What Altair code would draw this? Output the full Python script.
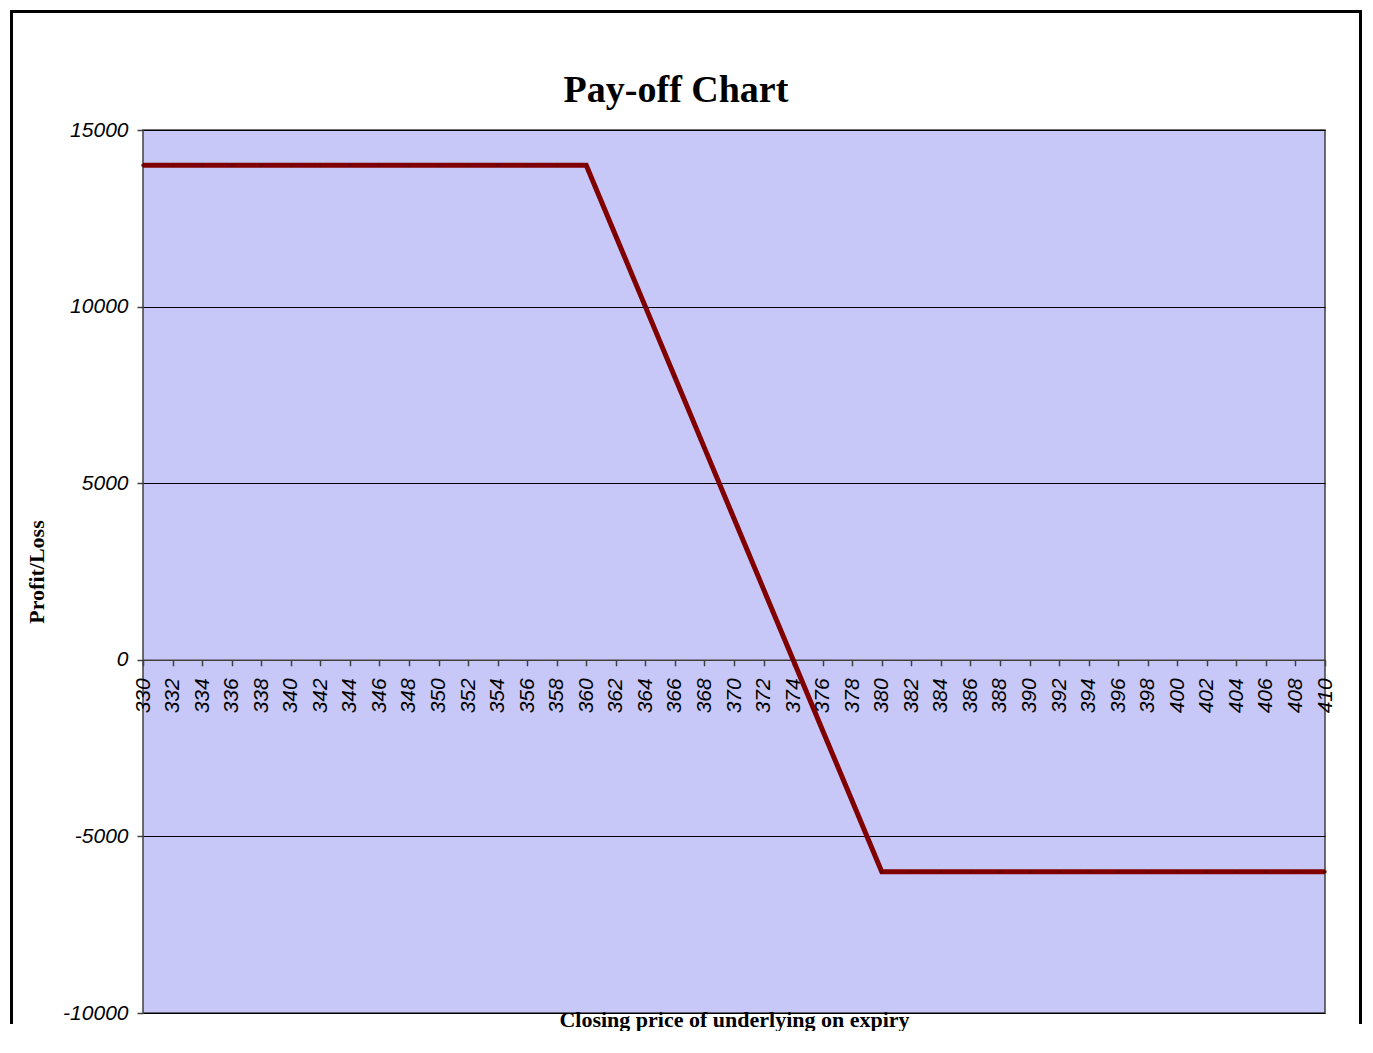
import altair as alt
import pandas as pd

# Data
prices = [330, 332, 334, 336, 338, 340, 342, 344, 346, 348, 350, 352, 354, 356, 358, 360,
          362, 364, 366, 368, 370, 372, 374, 376, 378,
          380, 382, 384, 386, 388, 390, 392, 394, 396, 398, 400, 402, 404, 406, 408, 410]
payoff = [14000, 14000, 14000, 14000, 14000, 14000, 14000, 14000, 14000, 14000, 14000, 14000, 14000, 14000, 14000, 14000,
          12000, 10000, 8000, 6000, 4000, 2000, 0, -2000, -4000,
          -6000, -6000, -6000, -6000, -6000, -6000, -6000, -6000, -6000, -6000, -6000, -6000, -6000, -6000, -6000, -6000]
y_ticks = [-10000, -5000, 0, 5000, 10000, 15000]

df = pd.DataFrame({"price": prices, "pl": payoff})

W, H = 1182, 883
zero_offset = -H * 10000 / 25000

x_enc = alt.X(
    "price:Q",
    scale=alt.Scale(domain=[330, 410], nice=False, zero=False),
    axis=alt.Axis(
        values=prices,
        labelExpr="'' + datum.value",
        title="Closing price of underlying on expiry",
        titleFont="Liberation Serif",
        titleFontWeight="bold",
        titleFontSize=22,
        titleColor="black",
        titleY=350,
        titleBaseline="top",
        labelAngle=270,
        labelFont="Liberation Sans",
        labelFontStyle="italic",
        labelFontSize=21,
        labelColor="black",
        labelPadding=12,
        labelOverlap=False,
        labelFlush=False,
        tickSize=6,
        tickColor="#404040",
        tickWidth=1.5,
        domainColor="#404040",
        domainWidth=1.5,
        grid=False,
        offset=zero_offset,
    ),
)

y_enc = alt.Y(
    "pl:Q",
    scale=alt.Scale(domain=[-10000, 15000], nice=False),
    axis=alt.Axis(
        values=y_ticks,
        labelExpr="'' + datum.value",
        title="Profit/Loss",
        titleFont="Liberation Serif",
        titleFontWeight="bold",
        titleFontSize=22,
        titleColor="black",
        titlePadding=14,
        labelFont="Liberation Sans",
        labelFontStyle="italic",
        labelFontSize=21,
        labelColor="black",
        labelPadding=9,
        labelFlush=False,
        tickSize=6,
        tickColor="#404040",
        tickWidth=1.5,
        domain=False,
        grid=True,
        gridColor="black",
        gridWidth=1,
        gridOpacity=1,
    ),
)

base = alt.Chart(df).encode(x=x_enc, y=y_enc)
line = base.mark_line(color="#800000", strokeWidth=5)
pts = base.mark_point(filled=True, color="#6a0000", size=12, opacity=1)

one = pd.DataFrame({"a": [0]})
frame_left = alt.Chart(one).mark_rule(color="black", strokeWidth=3).encode(
    x=alt.value(-131.5), y=alt.value(-120), y2=alt.value(894)
)
frame_right = alt.Chart(one).mark_rule(color="black", strokeWidth=3).encode(
    x=alt.value(1217.5), y=alt.value(-120), y2=alt.value(894)
)
frame_top = alt.Chart(one).mark_rule(color="black", strokeWidth=3).encode(
    x=alt.value(-133), x2=alt.value(1219), y=alt.value(-118.5)
)
title = alt.Chart(one).mark_text(
    text="Pay-off Chart", font="Liberation Serif", fontWeight="bold", fontSize=38,
    color="black", align="center", baseline="alphabetic"
).encode(x=alt.value(533), y=alt.value(-28))

chart = (
    alt.layer(frame_left, frame_right, frame_top, line, pts, title)
    .properties(width=W, height=H, padding=0, background="white")
    .configure_view(fill="#C8C8F8", stroke="#404040", strokeWidth=1.5)
)

chart.save("out.html", embed_options={"renderer": "svg", "actions": False})
